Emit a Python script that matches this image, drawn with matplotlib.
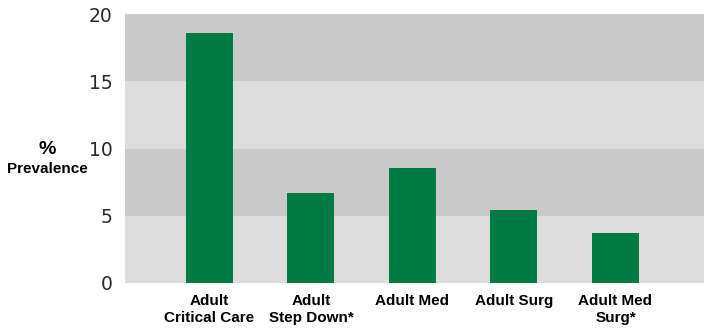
import matplotlib
matplotlib.use("Agg")
import matplotlib.pyplot as plt

categories = ["Adult\nCritical Care", "Adult\nStep Down*", "Adult Med", "Adult Surg", "Adult Med\nSurg*"]
values = [18.6, 6.7, 8.55, 5.43, 3.72]
yticks = [0, 5, 10, 15, 20]

plt.rcParams['font.family'] = ['Liberation Sans Narrow', 'Liberation Sans', 'DejaVu Sans']

fig = plt.figure(figsize=(7.04, 3.31), dpi=100)
ax = fig.add_axes([125/704, 48/331, 579/704, 269/331])

light, dark = "#dcdcdc", "#c9c9c9"
for i in range(4):
    ax.axhspan(i*5, (i+1)*5, color=light if i % 2 == 0 else dark, zorder=0, lw=0)

x = list(range(len(categories)))
ax.bar(x, values, width=0.463, color="#007b43", zorder=2)

ax.set_xlim(-0.832, 4.872)
ax.set_ylim(0, 20)
ax.set_yticks(yticks)
ax.set_yticklabels([str(t) for t in yticks], fontsize=13.5, color="#2a2a2a",
                   family=['DejaVu Sans'])
ax.set_xticks(x)
ax.set_xticklabels(categories, fontsize=11, fontweight='bold', linespacing=1.3)
ax.tick_params(axis='both', length=0)
ax.tick_params(axis='y', pad=9)
ax.tick_params(axis='x', pad=8)
for s in ax.spines.values():
    s.set_visible(False)

fig.text(47/704, 1 - 150/331, "%", ha='center', va='center', fontsize=14, fontweight='bold')
fig.text(47/704, 1 - 169/331, "Prevalence", ha='center', va='center', fontsize=11, fontweight='bold')

fig.savefig("out.png", dpi=100)
